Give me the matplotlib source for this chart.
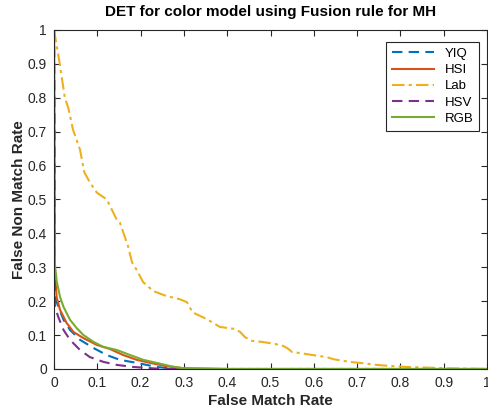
import matplotlib.pyplot as plt

plt.rcParams["font.family"] = ["Liberation Sans", "DejaVu Sans"]

# DET curves (false match rate, false non match rate)
yiq_fmr = [0.0, 0.002, 0.01, 0.022, 0.037, 0.06, 0.091, 0.122, 0.152, 0.191, 0.237, 0.28, 0.4, 1.0]
yiq_fnmr = [1.0, 0.212, 0.183, 0.145, 0.115, 0.086, 0.062, 0.041, 0.027, 0.018, 0.006, 0.0, 0.0, 0.0]

hsi_fmr = [0.0, 0.002, 0.006, 0.014, 0.029, 0.045, 0.068, 0.099, 0.129, 0.16, 0.191, 0.222, 0.26, 0.3, 0.4, 1.0]
hsi_fnmr = [1.0, 0.283, 0.212, 0.174, 0.136, 0.109, 0.091, 0.071, 0.059, 0.041, 0.027, 0.018, 0.008, 0.002, 0.0, 0.0]

lab_fmr = [0.0, 0.012, 0.025, 0.033, 0.044, 0.06, 0.07, 0.083, 0.099, 0.122, 0.145, 0.152,
           0.171, 0.18, 0.19, 0.206, 0.229, 0.26, 0.29, 0.307, 0.32, 0.353, 0.383, 0.418,
           0.43, 0.441, 0.457, 0.48, 0.51, 0.529, 0.538, 0.55, 0.568, 0.598, 0.63, 0.645,
           0.667, 0.69, 0.714, 0.745, 0.776, 0.815, 0.862, 0.907, 1.0]
lab_fnmr = [1.0, 0.91, 0.80, 0.77, 0.705, 0.647, 0.58, 0.55, 0.52, 0.50, 0.44, 0.432,
            0.362, 0.315, 0.294, 0.256, 0.23, 0.215, 0.206, 0.197, 0.167, 0.147, 0.124, 0.118,
            0.109, 0.094, 0.083, 0.08, 0.074, 0.068, 0.062, 0.05, 0.047, 0.041, 0.035, 0.029,
            0.024, 0.02, 0.017, 0.012, 0.009, 0.006, 0.004, 0.002, 0.0]

hsv_fmr = [0.0, 0.002, 0.01, 0.022, 0.037, 0.06, 0.083, 0.114, 0.145, 0.183, 0.25, 0.4, 1.0]
hsv_fnmr = [1.0, 0.183, 0.153, 0.115, 0.086, 0.056, 0.035, 0.021, 0.012, 0.006, 0.0, 0.0, 0.0]

rgb_fmr = [0.0, 0.001, 0.002, 0.006, 0.014, 0.022, 0.037, 0.052, 0.068, 0.091, 0.114, 0.145,
           0.176, 0.206, 0.237, 0.27, 0.3, 0.4, 1.0]
rgb_fnmr = [1.0, 0.45, 0.31, 0.26, 0.212, 0.183, 0.145, 0.121, 0.10, 0.08, 0.065, 0.056,
            0.041, 0.027, 0.018, 0.008, 0.002, 0.0, 0.0]

tick_vals = [i / 10 for i in range(11)]
tick_text = ["0", "0.1", "0.2", "0.3", "0.4", "0.5", "0.6", "0.7", "0.8", "0.9", "1"]

series = [
    ("YIQ", yiq_fmr, yiq_fnmr, "#0072BD", (0, (5, 3))),
    ("HSI", hsi_fmr, hsi_fnmr, "#D95319", "-"),
    ("Lab", lab_fmr, lab_fnmr, "#EDB120", (0, (6, 2, 1.5, 2))),
    ("HSV", hsv_fmr, hsv_fnmr, "#7E2F8E", (0, (5, 3))),
    ("RGB", rgb_fmr, rgb_fnmr, "#77AC30", "-"),
]

fig = plt.figure(figsize=(4.88, 4.12), dpi=100)
ax = fig.add_axes([0.1107, 0.1044, 0.8873, 0.8229])

for name, x, y, color, ls in series:
    ax.plot(x, y, color=color, linestyle=ls, linewidth=1.5, label=name)

ax.set_xlim(0, 1)
ax.set_ylim(0, 1)
ax.set_xticks(tick_vals)
ax.set_yticks(tick_vals)
ax.set_xticklabels(tick_text)
ax.set_yticklabels(tick_text)

axis_color = "#262626"
for spine in ax.spines.values():
    spine.set_color(axis_color)
    spine.set_linewidth(0.8)
ax.tick_params(direction="in", top=True, right=True, length=4, width=0.8,
               colors=axis_color, labelsize=10, pad=5)

ax.set_xlabel("False Match Rate", fontsize=11, fontweight="bold", color=axis_color, labelpad=3)
ax.set_ylabel("False Non Match Rate", fontsize=11, fontweight="bold", color=axis_color, labelpad=1)
ax.set_title("DET for color model using Fusion rule for MH", fontsize=11,
             fontweight="bold", color="black", pad=10)

leg = ax.legend(loc="upper right", bbox_to_anchor=(0.982, 0.965), borderaxespad=0,
                fontsize=9.5, fancybox=False, framealpha=1, edgecolor=axis_color,
                handlelength=3.2, borderpad=0.45, labelspacing=0.3)
leg.get_frame().set_linewidth(0.8)

fig.savefig("out.png", dpi=100)
